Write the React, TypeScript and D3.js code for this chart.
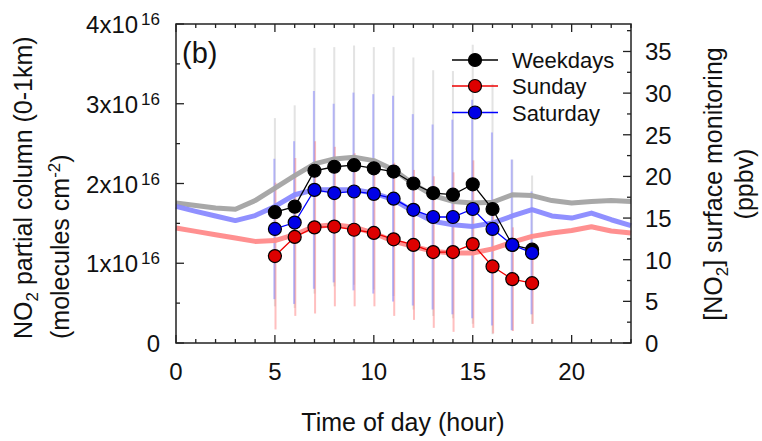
import { useEffect, useRef } from 'react';
import * as d3 from 'd3';

// hourly means of NO2 partial column (x1e16 molecules cm-2), 5-18 h
const hours = [5, 6, 7, 8, 9, 10, 11, 12, 13, 14, 15, 16, 17, 18];
const weekdays = [1.64, 1.71, 2.16, 2.21, 2.23, 2.19, 2.15, 2.0, 1.88, 1.86, 1.99, 1.68, 1.23, 1.17];
const weekdaysSd = [1.18, 1.27, 1.54, 1.5, 1.5, 1.52, 1.56, 1.58, 1.54, 1.55, 1.75, 1.57, 1.07, 0.93];
const sunday = [1.09, 1.33, 1.45, 1.46, 1.42, 1.38, 1.3, 1.23, 1.14, 1.14, 1.24, 0.96, 0.8, 0.75];
const sundaySd = [0.92, 0.99, 1.08, 1.0, 0.96, 0.92, 0.96, 0.94, 0.95, 1.0, 1.05, 0.84, 0.65, 0.51];
const saturday = [1.43, 1.51, 1.92, 1.88, 1.9, 1.87, 1.81, 1.67, 1.58, 1.58, 1.68, 1.43, 1.23, 1.13];
const saturdaySd = [0.88, 1.02, 1.24, 1.12, 1.24, 1.25, 1.29, 1.2, 1.16, 1.22, 1.37, 1.21, 1.07, 0.77];

// surface monitoring (ppbv), 0-23 h
const surfHours = [0, 1, 2, 3, 4, 5, 6, 7, 8, 9, 10, 11, 12, 13, 14, 15, 16, 17, 18, 19, 20, 21, 22, 23];
const weekdaysSurf = [16.8, 16.5, 16.2, 16.05, 17.1, 18.6, 20.1, 21.5, 22.1, 22.3, 21.9, 20.8, 19.1, 17.7, 17.0, 16.8, 16.9, 17.8, 17.7, 17.1, 16.8, 17.0, 17.1, 17.0];
const saturdaySurf = [16.4, 15.8, 15.25, 14.7, 15.3, 16.4, 17.8, 18.4, 18.4, 18.4, 18.0, 17.2, 15.8, 14.6, 14.2, 14.0, 14.4, 15.25, 16.0, 15.25, 15.0, 15.6, 14.8, 14.1];
const sundaySurf = [13.8, 13.4, 13.0, 12.6, 12.2, 12.3, 13.0, 14.0, 14.2, 13.9, 13.2, 12.2, 11.6, 11.0, 10.8, 10.8, 11.3, 12.1, 12.8, 13.2, 13.5, 13.95, 13.45, 13.2];

const xTicks = [0, 5, 10, 15, 20];
const leftTicks = [0, 1, 2, 3, 4];
const rightTicks = [0, 5, 10, 15, 20, 25, 30, 35];
const seriesNames = ['Weekdays', 'Sunday', 'Saturday'];

const FONT = '"Liberation Sans", Arial, sans-serif';

const App = () => {
  const svgRef = useRef(null);

  useEffect(() => {
    const svg = d3.select(svgRef.current);
    svg.selectAll('*').remove();

    const left = 176, right = 631, top = 24, bottom = 343;
    const x = d3.scaleLinear().domain([0, 23]).range([left, right]);
    const yL = d3.scaleLinear().domain([0, 4]).range([bottom, top]);
    const yR = d3.scaleLinear().domain([0, 38.3]).range([bottom, top]);

    const series = [
      { name: seriesNames[0], vals: weekdays, sd: weekdaysSd, surf: weekdaysSurf, fill: '#000000', line: '#000000', bar: '#b0b0b0', thick: '#a3a3a3', dx: 0 },
      { name: seriesNames[1], vals: sunday, sd: sundaySd, surf: sundaySurf, fill: '#dd0000', line: '#ee0000', bar: '#ff8080', thick: '#ff8a8a', dx: 0.6 },
      { name: seriesNames[2], vals: saturday, sd: saturdaySd, surf: saturdaySurf, fill: '#0000e6', line: '#0000ff', bar: '#8080ff', thick: '#8a8aff', dx: -0.6 },
    ];

    // error bars
    const bars = svg.append('g');
    series.forEach(s => {
      hours.forEach((h, i) => {
        bars.append('line')
          .attr('x1', x(h) + s.dx).attr('x2', x(h) + s.dx)
          .attr('y1', yL(s.vals[i] + s.sd[i])).attr('y2', yL(s.vals[i] - s.sd[i]))
          .attr('stroke', s.bar).attr('stroke-width', 2)
          .attr('opacity', s.dx === 0 ? 0.35 : 0.5);
      });
    });

    // surface monitoring thick lines
    const surfLine = d3.line<number>().x((_, i) => x(surfHours[i])).y(d => yR(d));
    [series[0], series[2], series[1]].forEach(s => {
      svg.append('path')
        .attr('d', surfLine(s.surf))
        .attr('fill', 'none').attr('stroke', s.thick)
        .attr('stroke-width', 5).attr('opacity', 0.95)
        .attr('stroke-linejoin', 'round');
    });

    // column lines and dots
    const colLine = d3.line<number>().x((_, i) => x(hours[i])).y(d => yL(d));
    series.forEach(s => {
      svg.append('path')
        .attr('d', colLine(s.vals))
        .attr('fill', 'none').attr('stroke', s.line).attr('stroke-width', 1.3);
      svg.append('g').selectAll('circle').data(s.vals).enter().append('circle')
        .attr('cx', (_, i) => x(hours[i])).attr('cy', d => yL(d))
        .attr('r', 6.5).attr('fill', s.fill)
        .attr('stroke', '#000').attr('stroke-width', 1.2);
    });

    // frame
    svg.append('rect')
      .attr('x', left).attr('y', top).attr('width', right - left).attr('height', bottom - top)
      .attr('fill', 'none').attr('stroke', '#222').attr('stroke-width', 1.5);

    // ticks (inward)
    const tg = svg.append('g').attr('stroke', '#222').attr('stroke-width', 1.3);
    d3.range(0, 24, 1).forEach(h => {
      const len = h % 5 === 0 ? 8 : 4;
      tg.append('line').attr('x1', x(h)).attr('x2', x(h)).attr('y1', bottom).attr('y2', bottom - len);
      tg.append('line').attr('x1', x(h)).attr('x2', x(h)).attr('y1', top).attr('y2', top + len);
    });
    d3.range(0, 4.01, 0.5).forEach(v => {
      const len = Number.isInteger(v) ? 8 : 4;
      tg.append('line').attr('x1', left).attr('x2', left + len).attr('y1', yL(v)).attr('y2', yL(v));
    });
    d3.range(0, 38.3, 2.5).forEach(v => {
      const len = v % 5 === 0 ? 8 : 4;
      tg.append('line').attr('x1', right).attr('x2', right - len).attr('y1', yR(v)).attr('y2', yR(v));
    });

    const text = svg.append('g').attr('font-family', FONT).attr('fill', '#111');

    // bottom tick labels
    xTicks.forEach(t => {
      text.append('text').attr('x', x(t)).attr('y', 380)
        .attr('text-anchor', 'middle').attr('font-size', 24).text(t);
    });

    // left tick labels
    leftTicks.forEach(t => {
      const el = text.append('text').attr('x', 160).attr('y', yL(t) + 9)
        .attr('text-anchor', 'end').attr('font-size', 24);
      if (t === 0) {
        el.text('0');
      } else {
        el.append('tspan').text(`${t}x10`);
        el.append('tspan').attr('dx', 3).attr('dy', -8).attr('font-size', 17).text('16');
      }
    });

    // right tick labels
    rightTicks.forEach(t => {
      text.append('text').attr('x', 645).attr('y', yR(t) + 9)
        .attr('font-size', 24).text(t);
    });

    // axis titles
    text.append('text').attr('x', 403).attr('y', 431)
      .attr('text-anchor', 'middle').attr('font-size', 25).text('Time of day (hour)');

    const lt1 = text.append('text').attr('transform', 'translate(32,339) rotate(-90)')
      .attr('font-size', 25);
    lt1.append('tspan').text('NO');
    lt1.append('tspan').attr('dy', 6).attr('font-size', 17).text('2');
    lt1.append('tspan').attr('dy', -6).text(' partial column (0-1km)');

    const lt2 = text.append('text').attr('transform', 'translate(69,339) rotate(-90)')
      .attr('font-size', 25);
    lt2.append('tspan').text('(molecules cm');
    lt2.append('tspan').attr('dy', -9).attr('font-size', 17).text('-2');
    lt2.append('tspan').attr('dy', 9).text(')');

    const rt1 = text.append('text').attr('transform', 'translate(722,184) rotate(-90)')
      .attr('text-anchor', 'middle').attr('font-size', 25);
    rt1.append('tspan').text('[NO');
    rt1.append('tspan').attr('dy', 6).attr('font-size', 17).text('2');
    rt1.append('tspan').attr('dy', -6).text('] surface monitoring');

    text.append('text').attr('transform', 'translate(753,184) rotate(-90)')
      .attr('text-anchor', 'middle').attr('font-size', 25).text('(ppbv)');

    // panel label
    text.append('text').attr('x', 182).attr('y', 63).attr('font-size', 29).text('(b)');

    // legend
    const leg = svg.append('g');
    const legY = [60, 86, 112.5];
    series.forEach((s, i) => {
      leg.append('line').attr('x1', 452).attr('x2', 498).attr('y1', legY[i]).attr('y2', legY[i])
        .attr('stroke', s.line).attr('stroke-width', 1.3);
      leg.append('circle').attr('cx', 475).attr('cy', legY[i]).attr('r', 6.5)
        .attr('fill', s.fill).attr('stroke', '#000').attr('stroke-width', 1.2);
      leg.append('text').attr('x', 512).attr('y', legY[i] + 8)
        .attr('font-family', FONT).attr('font-size', 22).attr('fill', '#111').text(s.name);
    });
  }, []);

  return (
    <svg
      ref={svgRef}
      width={762}
      height={441}
      style={{ position: 'absolute', left: 0, top: 0, background: '#fff' }}
    />
  );
};

export default App;
